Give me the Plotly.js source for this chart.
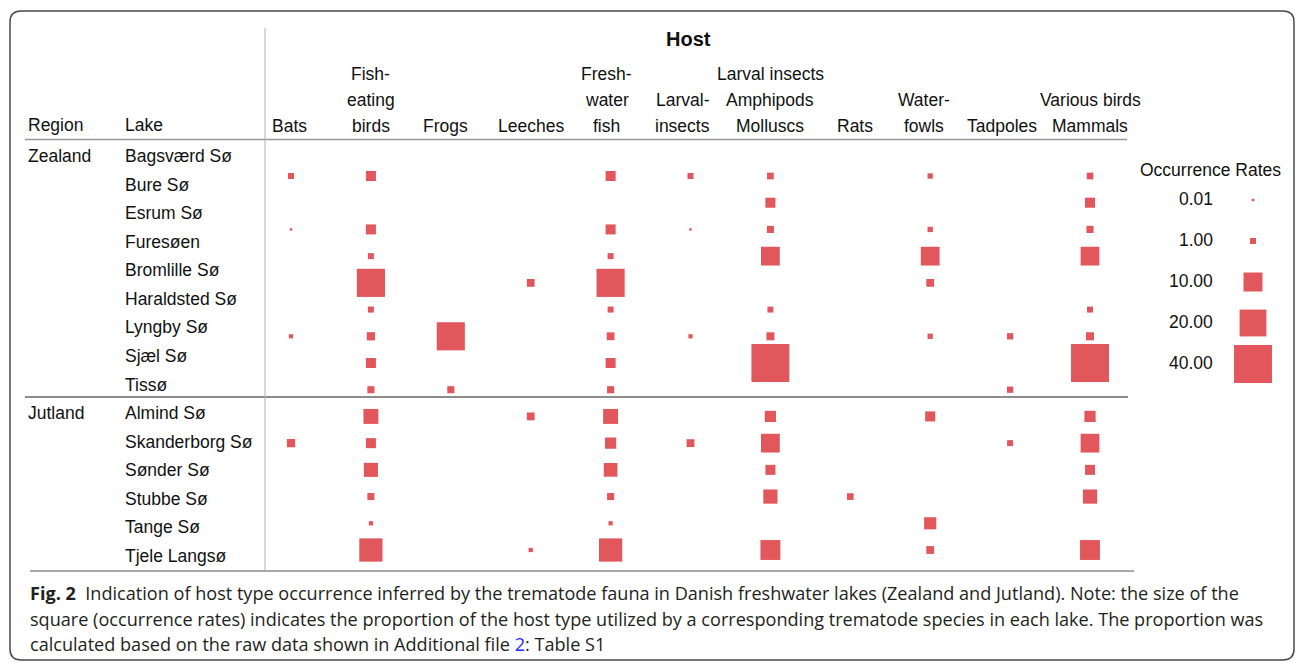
<!DOCTYPE html>
<html><head><meta charset="utf-8">
<script src="https://cdn.plot.ly/plotly-3.0.1.min.js"></script>
<style>html,body{margin:0;padding:0;background:#fff}#chart{width:1295px;height:662px}</style>
</head><body><div id="chart"></div>
<script>
// ---------------- data ----------------
const hosts = ["Bats","Fish-<br>eating<br>birds","Frogs","Leeches","Fresh-<br>water<br>fish","Larval-<br>insects","Larval insects<br>Amphipods<br>Molluscs","Rats","Water-<br>fowls","Tadpoles","Various birds<br>Mammals"];
const lakes = ["Bagsværd Sø","Bure Sø","Esrum Sø","Furesøen","Bromlille Sø","Haraldsted Sø","Lyngby Sø","Sjæl Sø","Tissø","Almind Sø","Skanderborg Sø","Sønder Sø","Stubbe Sø","Tange Sø","Tjele Langsø"];
const regions = ["Zealand","Jutland"];
const regionFirstLake = ["Bagsværd Sø","Almind Sø"];
// occurrence rates, one value per lake (null = host not recorded)
const bats                = [1.0, null, 0.17, null, null, null, 0.5, null, null, null, 1.9, null, null, null, null];
const fishEatingBirds     = [2.8, null, 2.8, 1.0, 22, 1.0, 1.9, 2.8, 1.4, 6.2, 2.8, 5.5, 1.4, 0.5, 15];
const frogs               = [null, null, null, null, null, null, 22, null, 1.4, null, null, null, null, null, null];
const leeches             = [null, null, null, null, 1.7, null, null, null, null, 1.7, null, null, null, null, 0.5];
const freshwaterFish      = [2.8, null, 2.8, 1.0, 22, 1.0, 1.7, 2.8, 1.4, 6.2, 3.5, 5.2, 1.4, 0.5, 15];
const larvalInsects       = [1.0, null, 0.17, null, null, null, 0.5, null, null, null, 1.7, null, null, null, null];
const larvalAmphMolluscs  = [1.25, 2.8, 1.4, 9.8, null, 1.0, 1.8, 40, null, 3.5, 9.8, 2.8, 5.6, null, 11];
const rats                = [null, null, null, null, null, null, null, null, null, null, null, null, 1.25, null, null];
const waterfowls          = [0.8, null, 0.8, 9.8, 1.7, null, 0.8, null, null, 2.8, null, null, null, 4.1, 1.7];
const tadpoles            = [null, null, null, null, null, null, 1.1, null, 1.1, null, 1.0, null, null, null, null];
const variousBirdsMammals = [1.25, 2.8, 1.4, 9.8, null, 1.0, 1.8, 40, null, 3.5, 9.8, 2.8, 5.6, null, 11];
const series = [bats, fishEatingBirds, frogs, leeches, freshwaterFish, larvalInsects, larvalAmphMolluscs, rats, waterfowls, tadpoles, variousBirdsMammals];
const legendValues = [0.01, 1, 10, 20, 40];
const legendLabels = ["0.01","1.00","10.00","20.00","40.00"];
const captionLines = [
  "<b>Fig. 2</b>&nbsp;&nbsp;Indication of host type occurrence inferred by the trematode fauna in Danish freshwater lakes (Zealand and Jutland). Note: the size of the",
  "square (occurrence rates) indicates the proportion of the host type utilized by a corresponding trematode species in each lake. The proportion was",
  "calculated based on the raw data shown in Additional file <span style=\"color:#2a2aff\">2</span>: Table S1"
];

// ---------------- layout helpers ----------------
const W = 1295, H = 662;
const RED = '#E1575C';
const TXT = '#111111';
const FONT = 'Liberation Sans, Arial, sans-serif';
function rng(p0, p1, n0, n1, total){ // value n0 at pixel p0, n1 at pixel p1
  const per = (p1 - p0) / (n1 - n0);
  const lo = n0 - p0 / per;
  return [lo, lo + total / per];
}
const xr = rng(291, 1090, 0, 10, W);
const yr = rng(176, 550, 0, 14, H);   // squares
const y2r = rng(156, 556, 0, 14, H);  // lake labels
const y3r = rng(200, 364, 0, 4, H);   // legend
const px = p => p / W;
const py = p => 1 - p / H;
const xval = p => xr[0] + p / W * (xr[1] - xr[0]);
const sz = v => Math.max(2.5, 6 * Math.sqrt(v));

// ---------------- traces ----------------
const xs = [], ys = [], ss = [], tx = [];
series.forEach((s, i) => s.forEach((v, j) => {
  if (v !== null) { xs.push(i); ys.push(j); ss.push(sz(v)); tx.push(hosts[i].replace(/<br>/g,' ') + ' – ' + lakes[j] + ': ' + v); }
}));
const traces = [
  {type:'scatter', mode:'markers', x:xs, y:ys, text:tx, hoverinfo:'text',
   marker:{symbol:'square', size:ss, color:RED, opacity:1, line:{width:0}}, xaxis:'x', yaxis:'y'},
  {type:'scatter', mode:'markers', x:lakes.map(()=>xval(130)), y:lakes.map((l,i)=>i), yaxis:'y2',
   marker:{opacity:0, size:1}, hoverinfo:'skip'},
  {type:'scatter', mode:'markers', x:legendValues.map(()=>xval(1253)), y:legendValues.map((v,i)=>i),
   yaxis:'y3', marker:{symbol:'square', size:legendValues.map(sz), color:RED, opacity:1, line:{width:0}}, hoverinfo:'skip'}
];

// ---------------- annotations ----------------
const ann = [];
const base = {showarrow:false, font:{family:FONT, size:17.5, color:TXT}};
ann.push(Object.assign({}, base, {xref:'paper', yref:'paper', x:px(688), y:py(39), text:'<b>Host</b>', xanchor:'center', yanchor:'middle', font:{family:FONT, size:20, color:TXT}}));
ann.push(Object.assign({}, base, {xref:'paper', yref:'paper', x:px(26), y:py(125), text:'Region', xanchor:'left', yanchor:'middle'}));
ann.push(Object.assign({}, base, {xref:'paper', yref:'paper', x:px(123), y:py(125), text:'Lake', xanchor:'left', yanchor:'middle'}));
const hShift = [-2, 0, -5, 0, -4, -8, 0, 5, -6, -8, 0];
hosts.forEach((h, i) => {
  const lines = h.split('<br>');
  lines.forEach((ln, j) => {
    const fromBottom = lines.length - 1 - j;
    ann.push(Object.assign({}, base, {xref:'x', yref:'paper', x:i, xshift:hShift[i], y:py(125.5 - 25.6 * fromBottom), text:ln, xanchor:'center', yanchor:'middle'}));
  });
});
lakes.forEach((l, i) => {
  ann.push(Object.assign({}, base, {xref:'paper', yref:'y2', x:px(123), y:i, text:l, xanchor:'left', yanchor:'middle'}));
});
regions.forEach((r, i) => {
  ann.push(Object.assign({}, base, {xref:'paper', yref:'y2', x:px(26), y:lakes.indexOf(regionFirstLake[i]), text:r, xanchor:'left', yanchor:'middle'}));
});
ann.push(Object.assign({}, base, {xref:'paper', yref:'paper', x:px(1210), y:py(170), text:'Occurrence Rates', xanchor:'center', yanchor:'middle'}));
legendLabels.forEach((l, i) => {
  ann.push(Object.assign({}, base, {xref:'paper', yref:'y3', x:px(1215), y:i, yshift:1.5, text:l, xanchor:'right', yanchor:'middle'}));
});
captionLines.forEach((c, i) => {
  ann.push({showarrow:false, xref:'paper', yref:'paper', x:px(28), y:py(593 + 25.5 * i), text:c, xanchor:'left', yanchor:'middle',
            font:{family:'Open Sans, Noto Sans, sans-serif', size:18.1, color:'#231f20'}});
});

// ---------------- shapes ----------------
function hline(x0, x1, y, color, w){ return {type:'line', xref:'paper', yref:'paper', x0:px(x0), x1:px(x1), y0:py(y), y1:py(y), line:{color:color, width:w}}; }
function frame(x0, y0, x1, y1, r){
  const X = p => px(p).toFixed(5), Y = p => py(p).toFixed(5);
  return 'M'+X(x0+r)+','+Y(y0)+' L'+X(x1-r)+','+Y(y0)+' Q'+X(x1)+','+Y(y0)+' '+X(x1)+','+Y(y0+r)+
    ' L'+X(x1)+','+Y(y1-r)+' Q'+X(x1)+','+Y(y1)+' '+X(x1-r)+','+Y(y1)+
    ' L'+X(x0+r)+','+Y(y1)+' Q'+X(x0)+','+Y(y1)+' '+X(x0)+','+Y(y1-r)+
    ' L'+X(x0)+','+Y(y0+r)+' Q'+X(x0)+','+Y(y0)+' '+X(x0+r)+','+Y(y0)+' Z';
}
const shapes = [
  {type:'path', xref:'paper', yref:'paper', path:frame(10, 11, 1294, 660, 11), line:{color:'#4a4a4a', width:1.5}},
  hline(25, 1127, 139.5, '#9a9a9a', 1.5),
  hline(25, 1128, 397, '#8c8c8c', 2),
  hline(30, 1134, 571, '#a8a8a8', 2),
  {type:'line', xref:'paper', yref:'paper', x0:px(265), x1:px(265), y0:py(28), y1:py(571), line:{color:'#b0b0b0', width:1}}
];

const layout = {
  width:W, height:H, margin:{l:0, r:0, t:0, b:0},
  paper_bgcolor:'#ffffff', plot_bgcolor:'#ffffff', showlegend:false,
  xaxis:{range:xr, visible:false, fixedrange:true},
  yaxis:{range:[yr[1], yr[0]], visible:false, fixedrange:true},
  yaxis2:{range:[y2r[1], y2r[0]], visible:false, overlaying:'y', fixedrange:true},
  yaxis3:{range:[y3r[1], y3r[0]], visible:false, overlaying:'y', fixedrange:true},
  annotations:ann, shapes:shapes
};
Plotly.newPlot('chart', traces, layout, {displayModeBar:false, staticPlot:false});
</script></body></html>
